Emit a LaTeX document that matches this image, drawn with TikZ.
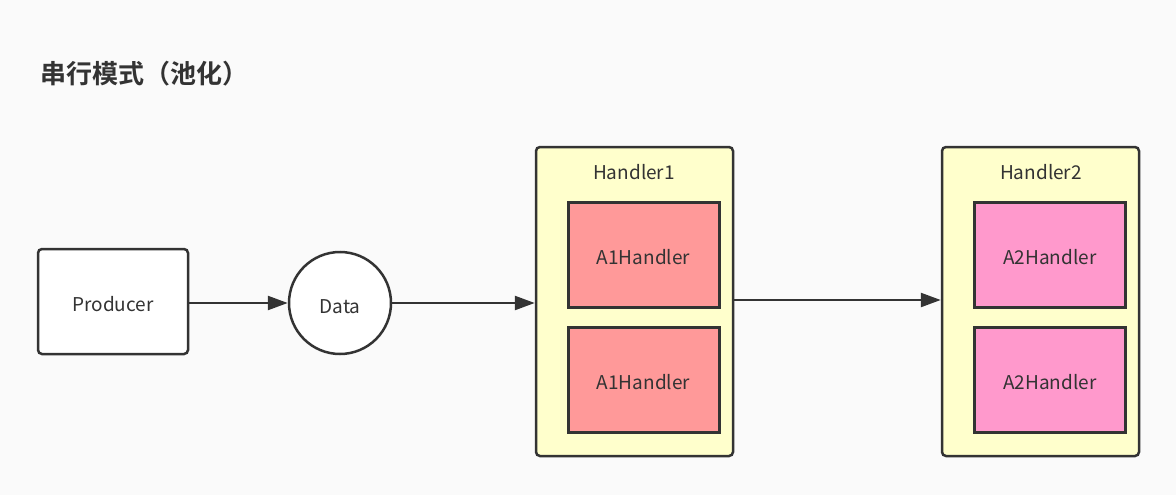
\documentclass[tikz,border=0pt]{standalone}
\usepackage{fontspec}
\setmainfont{Noto Sans CJK SC}
\newfontfamily\titlefont{Noto Sans CJK SC Bold}
\usetikzlibrary{arrows.meta}
\definecolor{ink}{HTML}{333333}
\definecolor{bg}{HTML}{FAFAFA}
\definecolor{poolfill}{HTML}{FFFFCC}
\definecolor{redfill}{HTML}{FF9999}
\definecolor{pinkfill}{HTML}{FF99CC}
\tikzset{
  lbl/.style={text=ink, font=\fontsize{19}{21}\selectfont, text height=20pt, text depth=0pt},
  box/.style={lbl, draw=ink, line width=2.5pt, rounded corners=4pt, fill=white, inner sep=0pt},
  pool/.style={draw=ink, line width=2.5pt, rounded corners=4pt, fill=poolfill, inner sep=0pt,
    minimum width=197pt, minimum height=309pt},
  worker/.style={lbl, draw=ink, line width=3pt, inner sep=0pt, minimum width=151pt, minimum height=105pt},
  flow/.style={draw=ink, line width=2.5pt, -{Triangle[length=20pt, width=14pt]}},
}
\begin{document}
\begin{tikzpicture}[x=1pt, y=-1pt]
  \useasboundingbox[fill=bg] (0,0) rectangle (1176,495);
  \node[anchor=west, text=ink, font=\titlefont\fontsize{26}{28}\selectfont] (title) at (37,74) {串行模式（池化）};
  % source side
  \node[box, minimum width=150pt, minimum height=105pt] (prod) at (113,301.5) {Producer};
  \node[lbl, draw=ink, line width=2.5pt, circle, fill=white, minimum size=102pt, inner sep=0pt] (data) at (340,303) {Data};
  % first pool
  \node[pool] (h1) at (634.5,301.5) {};
  \node[lbl] (h1lbl) at (634,169) {Handler1};
  \node[worker, fill=redfill] (a1a) at (643.5,254.5) {A1Handler};
  \node[worker, fill=redfill] (a1b) at (643.5,379.5) {A1Handler};
  % second pool
  \node[pool] (h2) at (1040.5,301.5) {};
  \node[lbl] (h2lbl) at (1041,169) {Handler2};
  \node[worker, fill=pinkfill] (a2a) at (1050,254.5) {A2Handler};
  \node[worker, fill=pinkfill] (a2b) at (1050,379.5) {A2Handler};
  % connectors
  \draw[flow] (prod.east |- data.west) -- (data.west);
  \draw[flow] (data.east) -- (data.east -| h1.west);
  \draw[flow] (h1.east) ++(0,-1.5) coordinate (h1out) -- (h1out -| h2.west);
\end{tikzpicture}
\end{document}
